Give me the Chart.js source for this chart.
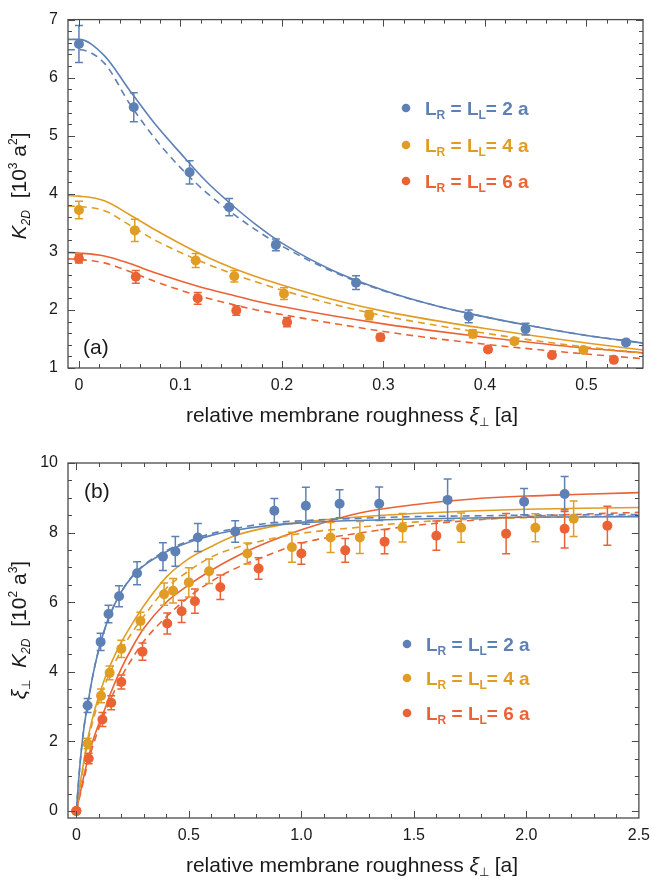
<!DOCTYPE html>
<html>
<head>
<meta charset="utf-8">
<script src="https://cdn.jsdelivr.net/npm/chart.js@4.4.1/dist/chart.umd.min.js"></script>
<style>
  html, body { margin: 0; padding: 0; background: #fff; }
  .panel { position: absolute; left: 0; width: 658px; }
  #wrapA { top: 0; height: 440px; }
  #wrapB { top: 440px; height: 442px; }
</style>
</head>
<body>
<div class="panel" id="wrapA"><canvas id="chartA" width="658" height="440"></canvas></div>
<div class="panel" id="wrapB"><canvas id="chartB" width="658" height="442"></canvas></div>
<script>
'use strict';

// ---- panel (a): K_2D vs roughness, simulation points ----
const aBlueX = [0, 0.054, 0.109, 0.148, 0.194, 0.273, 0.384, 0.44, 0.539];
const aBlueY = [6.58, 5.49, 4.37, 3.77, 3.12, 2.47, 1.89, 1.67, 1.44];
const aBlueErr = [0.32, 0.25, 0.2, 0.15, 0.1, 0.12, 0.11, 0.1, 0.05];
const aOrangeX = [0, 0.055, 0.115, 0.153, 0.202, 0.286, 0.388, 0.429, 0.497];
const aOrangeY = [3.72, 3.37, 2.85, 2.58, 2.28, 1.91, 1.59, 1.46, 1.31];
const aOrangeErr = [0.15, 0.19, 0.12, 0.1, 0.1, 0.08, 0.07, 0.05, 0.04];
const aRedX = [0, 0.056, 0.117, 0.155, 0.205, 0.297, 0.403, 0.466, 0.527];
const aRedY = [2.88, 2.57, 2.2, 1.99, 1.79, 1.53, 1.32, 1.22, 1.14];
const aRedErr = [0.07, 0.11, 0.1, 0.08, 0.08, 0.06, 0.05, 0.04, 0.04];

// panel (a) theory curves (solid / dashed)
const aCurveX = [-0.011, 0, 0.025, 0.05, 0.075, 0.1, 0.125, 0.15, 0.175, 0.2, 0.25, 0.3, 0.35, 0.4, 0.45, 0.5, 0.556];
const aBlueSolid = [6.66, 6.66, 6.38, 5.78, 5.2, 4.7, 4.22, 3.82, 3.46, 3.15, 2.68, 2.34, 2.08, 1.88, 1.71, 1.56, 1.43];
const aBlueDashed = [6.48, 6.48, 6.25, 5.55, 4.95, 4.45, 4.03, 3.68, 3.37, 3.1, 2.66, 2.33, 2.08, 1.88, 1.71, 1.56, 1.43];
const aOrangeSolid = [3.97, 3.96, 3.88, 3.64, 3.38, 3.14, 2.92, 2.73, 2.57, 2.43, 2.18, 1.98, 1.82, 1.68, 1.55, 1.43, 1.31];
const aOrangeDashed = [3.79, 3.78, 3.71, 3.46, 3.2, 2.99, 2.8, 2.63, 2.48, 2.34, 2.1, 1.9, 1.74, 1.6, 1.47, 1.36, 1.26];
const aRedSolid = [2.99, 2.98, 2.93, 2.8, 2.64, 2.5, 2.37, 2.26, 2.15, 2.06, 1.9, 1.76, 1.64, 1.53, 1.43, 1.34, 1.26];
const aRedDashed = [2.88, 2.87, 2.81, 2.66, 2.49, 2.34, 2.21, 2.1, 2.0, 1.92, 1.77, 1.63, 1.51, 1.41, 1.32, 1.24, 1.16];

const aXTicks = [0, 0.1, 0.2, 0.3, 0.4, 0.5];
const aXLabels = ['0', '0.1', '0.2', '0.3', '0.4', '0.5'];
const aYTicks = [1, 2, 3, 4, 5, 6, 7];
const aYLabels = ['1', '2', '3', '4', '5', '6', '7'];

// ---- panel (b): xi * K_2D vs roughness ----
const bBlueX = [0, 0.05, 0.108, 0.143, 0.19, 0.27, 0.385, 0.44, 0.54, 0.706, 0.88, 1.02, 1.17, 1.346, 1.65, 1.99, 2.17];
const bBlueY = [0, 3.03, 4.86, 5.66, 6.17, 6.83, 7.31, 7.46, 7.86, 8.03, 8.63, 8.77, 8.83, 8.83, 8.94, 8.89, 9.11];
const bBlueErr = [0, 0.2, 0.25, 0.25, 0.3, 0.33, 0.4, 0.43, 0.4, 0.31, 0.35, 0.53, 0.4, 0.48, 0.6, 0.38, 0.5];
const bOrangeX = [0, 0.05, 0.11, 0.148, 0.2, 0.285, 0.39, 0.43, 0.5, 0.59, 0.76, 0.958, 1.13, 1.26, 1.45, 1.71, 2.04, 2.21];
const bOrangeY = [0, 1.94, 3.31, 3.97, 4.66, 5.46, 6.23, 6.33, 6.57, 6.89, 7.4, 7.58, 7.86, 7.86, 8.14, 8.14, 8.14, 8.4];
const bOrangeErr = [0, 0.15, 0.2, 0.2, 0.25, 0.25, 0.32, 0.35, 0.42, 0.35, 0.3, 0.43, 0.43, 0.46, 0.41, 0.42, 0.4, 0.51];
const bRedX = [0, 0.055, 0.116, 0.155, 0.2, 0.294, 0.404, 0.468, 0.527, 0.64, 0.81, 1.0, 1.195, 1.37, 1.6, 1.91, 2.17, 2.36];
const bRedY = [0, 1.51, 2.63, 3.11, 3.71, 4.58, 5.39, 5.74, 6.03, 6.43, 6.97, 7.4, 7.49, 7.74, 7.91, 7.97, 8.11, 8.2];
const bRedErr = [0, 0.15, 0.2, 0.2, 0.2, 0.25, 0.3, 0.32, 0.35, 0.35, 0.31, 0.31, 0.34, 0.35, 0.42, 0.58, 0.55, 0.56];

const bCurveX = [0, 0.01, 0.02, 0.035, 0.05, 0.075, 0.1, 0.125, 0.15, 0.2, 0.25, 0.3, 0.4, 0.5, 0.6, 0.7, 0.85, 1.0, 1.25, 1.5, 1.75, 2.0, 2.25, 2.5];
const bBlueSolid = [0, 0.85, 1.6, 2.45, 3.05, 3.95, 4.65, 5.2, 5.65, 6.3, 6.75, 7.05, 7.45, 7.72, 7.92, 8.06, 8.2, 8.28, 8.35, 8.39, 8.42, 8.44, 8.45, 8.46];
const bBlueDashed = [0, 0.85, 1.6, 2.45, 3.05, 3.95, 4.65, 5.2, 5.65, 6.3, 6.76, 7.07, 7.48, 7.76, 7.97, 8.11, 8.27, 8.34, 8.41, 8.46, 8.48, 8.5, 8.51, 8.52];
const bOrangeSolid = [0, 0.45, 0.9, 1.5, 2.05, 2.75, 3.3, 3.78, 4.18, 4.85, 5.4, 5.9, 6.72, 7.25, 7.6, 7.9, 8.15, 8.3, 8.45, 8.55, 8.62, 8.67, 8.7, 8.72];
const bOrangeDashed = [0, 0.4, 0.8, 1.4, 1.95, 2.62, 3.15, 3.6, 3.98, 4.62, 5.15, 5.6, 6.4, 6.9, 7.3, 7.55, 7.8, 7.98, 8.15, 8.3, 8.38, 8.43, 8.46, 8.48];
const bRedSolid = [0, 0.3, 0.6, 1.05, 1.45, 2.05, 2.5, 2.9, 3.35, 4.1, 4.72, 5.25, 6.0, 6.5, 6.92, 7.28, 7.72, 8.08, 8.55, 8.8, 8.96, 9.05, 9.1, 9.15];
const bRedDashed = [0, 0.28, 0.55, 0.95, 1.35, 1.9, 2.38, 2.8, 3.18, 3.85, 4.4, 4.88, 5.58, 6.15, 6.6, 6.95, 7.35, 7.7, 7.98, 8.2, 8.35, 8.46, 8.53, 8.58];

const bXTicks = [0, 0.5, 1.0, 1.5, 2.0, 2.5];
const bXLabels = ['0', '0.5', '1.0', '1.5', '2.0', '2.5'];
const bYTicks = [0, 2, 4, 6, 8, 10];
const bYLabels = ['0', '2', '4', '6', '8', '10'];

const BLUE = '#5E81B5';
const ORANGE = '#E19C24';
const RED = '#EB6235';
const TEXT = '#1a1a1a';
const FONT = '"Liberation Sans", Arial, sans-serif';

function pts(xs, ys) {
  return xs.map((x, i) => ({ x: x, y: ys[i] }));
}

function range(from, to, step) {
  const out = [];
  for (let v = from; v <= to + 1e-9; v += step) out.push(+v.toFixed(4));
  return out;
}

function curve(xs, ys, color, dashed) {
  return {
    data: pts(xs, ys),
    showLine: true,
    borderColor: color,
    borderWidth: 1.6,
    borderDash: dashed ? [7, 5] : [],
    pointRadius: 0,
    cubicInterpolationMode: 'monotone',
    order: 10
  };
}

function markers(xs, ys, errs, color, order) {
  return {
    data: pts(xs, ys),
    yErr: errs,
    showLine: false,
    backgroundColor: color,
    borderColor: color,
    borderWidth: 0,
    pointRadius: 5,
    order: order
  };
}

// draws text pieces with sub/superscripts around a baseline point
function drawRich(ctx, parts, x, y, angle, align) {
  ctx.save();
  ctx.translate(x, y);
  ctx.rotate(angle || 0);
  ctx.textBaseline = 'alphabetic';
  ctx.textAlign = 'left';
  let total = 0;
  parts.forEach(p => {
    ctx.font = p.font;
    p.w = ctx.measureText(p.t).width + (p.gap || 0);
    total += p.w;
  });
  let cx = align === 'left' ? 0 : -total / 2;
  parts.forEach(p => {
    ctx.font = p.font;
    ctx.fillStyle = p.color || TEXT;
    ctx.fillText(p.t, cx, p.dy || 0);
    cx += p.w;
  });
  ctx.restore();
}

// frame with inward ticks on all four sides (Mathematica style)
const frameTicks = {
  id: 'frameTicks',
  afterDraw(chart, args, opts) {
    const { ctx, chartArea: a } = chart;
    const x = chart.scales.x, y = chart.scales.y;
    ctx.save();
    ctx.strokeStyle = '#4a4a4a';
    ctx.lineWidth = 1.3;
    ctx.strokeRect(a.left, a.top, a.right - a.left, a.bottom - a.top);
    ctx.beginPath();
    const xt = (vals, len) => vals.forEach(v => {
      const p = Math.round(x.getPixelForValue(v)) + 0.5;
      if (p < a.left || p > a.right) return;
      ctx.moveTo(p, a.bottom); ctx.lineTo(p, a.bottom - len);
      ctx.moveTo(p, a.top); ctx.lineTo(p, a.top + len);
    });
    const yt = (vals, len) => vals.forEach(v => {
      const p = Math.round(y.getPixelForValue(v)) + 0.5;
      if (p < a.top - 1 || p > a.bottom + 1) return;
      ctx.moveTo(a.left, p); ctx.lineTo(a.left + len, p);
      ctx.moveTo(a.right, p); ctx.lineTo(a.right - len, p);
    });
    xt(opts.xMajor, 7); xt(opts.xMinor, 4);
    yt(opts.yMajor, 7); yt(opts.yMinor, 4);
    ctx.lineWidth = 1;
    ctx.stroke();
    ctx.restore();
  }
};

// vertical error bars with caps, drawn just before the point dataset
const errorBars = {
  id: 'errorBars',
  beforeDatasetDraw(chart, args) {
    const ds = chart.data.datasets[args.index];
    if (!ds.yErr) return;
    const { ctx } = chart;
    const x = chart.scales.x, y = chart.scales.y;
    ctx.save();
    ctx.strokeStyle = ds.borderColor;
    ctx.lineWidth = 1.5;
    ctx.beginPath();
    ds.data.forEach((p, i) => {
      const e = ds.yErr[i];
      if (!e) return;
      const px = x.getPixelForValue(p.x);
      const y1 = y.getPixelForValue(p.y + e);
      const y2 = y.getPixelForValue(p.y - e);
      ctx.moveTo(px, y1); ctx.lineTo(px, y2);
      ctx.moveTo(px - 4, y1); ctx.lineTo(px + 4, y1);
      ctx.moveTo(px - 4, y2); ctx.lineTo(px + 4, y2);
    });
    ctx.stroke();
    ctx.restore();
  }
};

// axis titles, panel label and the legend
const annotations = {
  id: 'annotations',
  afterDraw(chart, args, opts) {
    const ctx = chart.ctx;
    opts.items.forEach(it => drawRich(ctx, it.parts, it.x, it.y, it.angle, it.align));
    opts.dots.forEach(d => {
      ctx.beginPath();
      ctx.fillStyle = d.color;
      ctx.arc(d.x, d.y, 4.3, 0, Math.PI * 2);
      ctx.fill();
    });
  }
};

const F = (size, style) => (style ? style + ' ' : '') + size + 'px ' + FONT;

function xTitle(y) {
  return {
    x: 352, y: y, parts: [
      { t: 'relative membrane roughness ', font: F(21) },
      { t: 'ξ', font: F(21, 'italic') },
      { t: '⊥', font: F(12), dy: 4 },
      { t: ' [a]', font: F(21) }
    ]
  };
}

function legendRow(label, color, x, y) {
  const B = s => F(s, 'bold');
  return {
    x: x, y: y, align: 'left', parts: [
      { t: 'L', font: B(19), color: color },
      { t: 'R', font: B(12), color: color, dy: 4 },
      { t: ' = L', font: B(19), color: color },
      { t: 'L', font: B(12), color: color, dy: 4 },
      { t: '= ' + label + ' a', font: B(19), color: color }
    ]
  };
}

function axisOpts(min, max, ticks, labels, isX, size) {
  return {
    type: 'linear',
    min: min,
    max: max,
    afterBuildTicks: s => { s.ticks = ticks.map(v => ({ value: v })); },
    afterFit: s => { if (isX) s.height = size; else s.width = size; },
    grid: { display: false, drawTicks: false },
    border: { display: false },
    ticks: {
      autoSkip: false,
      maxRotation: 0,
      padding: isX ? 8 : 10,
      color: TEXT,
      font: { family: FONT, size: 16 },
      callback: (v) => labels[ticks.indexOf(v)]
    }
  };
}

function baseOptions(pad) {
  return {
    responsive: false,
    animation: false,
    layout: { padding: pad },
    plugins: { legend: { display: false }, tooltip: { enabled: false } }
  };
}

// ---- chart (a) ----
const optsA = baseOptions({ top: 13, right: 15, left: 0, bottom: 0 });
optsA.scales = {
  x: axisOpts(-0.0108, 0.5557, aXTicks, aXLabels, true, 72),
  y: axisOpts(1, 7, aYTicks, aYLabels, false, 68)
};
optsA.plugins.frameTicks = {
  xMajor: aXTicks, xMinor: range(0, 0.54, 0.02),
  yMajor: aYTicks, yMinor: range(1, 7, 0.2)
};
optsA.plugins.annotations = {
  items: [
    xTitle(422),
    {
      x: 26, y: 186, angle: -Math.PI / 2, parts: [
        { t: 'K', font: F(21, 'italic') },
        { t: '2D', font: F(12, 'italic'), dy: 4, gap: 6 },
        { t: ' [10', font: F(21) },
        { t: '3', font: F(12), dy: -9 },
        { t: ' a', font: F(21) },
        { t: '2', font: F(12), dy: -9 },
        { t: ']', font: F(21) }
      ]
    },
    { x: 83, y: 354, align: 'left', parts: [{ t: '(a)', font: F(21) }] },
    legendRow('2', BLUE, 425, 115),
    legendRow('4', ORANGE, 425, 152),
    legendRow('6', RED, 425, 188)
  ],
  dots: [
    { x: 406, y: 108, color: BLUE },
    { x: 406, y: 145, color: ORANGE },
    { x: 406, y: 181, color: RED }
  ]
};

new Chart(document.getElementById('chartA'), {
  type: 'scatter',
  data: {
    datasets: [
      curve(aCurveX, aBlueSolid, BLUE, false),
      curve(aCurveX, aBlueDashed, BLUE, true),
      curve(aCurveX, aOrangeSolid, ORANGE, false),
      curve(aCurveX, aOrangeDashed, ORANGE, true),
      curve(aCurveX, aRedSolid, RED, false),
      curve(aCurveX, aRedDashed, RED, true),
      markers(aBlueX, aBlueY, aBlueErr, BLUE, 3),
      markers(aOrangeX, aOrangeY, aOrangeErr, ORANGE, 2),
      markers(aRedX, aRedY, aRedErr, RED, 1)
    ]
  },
  options: optsA,
  plugins: [errorBars, frameTicks, annotations]
});

// ---- chart (b) ----
const optsB = baseOptions({ top: 23, right: 14, left: 0, bottom: 0 });
optsB.scales = {
  x: axisOpts(-0.037, 2.5, bXTicks, bXLabels, true, 64),
  y: axisOpts(-0.2, 10, bYTicks, bYLabels, false, 68)
};
optsB.plugins.frameTicks = {
  xMajor: bXTicks, xMinor: range(0, 2.5, 0.1),
  yMajor: bYTicks, yMinor: range(0, 10, 0.5)
};
optsB.plugins.annotations = {
  items: [
    xTitle(432),
    {
      x: 26, y: 190, angle: -Math.PI / 2, parts: [
        { t: 'ξ', font: F(21, 'italic') },
        { t: '⊥', font: F(12), dy: 4, gap: 6 },
        { t: ' K', font: F(21, 'italic') },
        { t: '2D', font: F(12, 'italic'), dy: 4, gap: 6 },
        { t: ' [10', font: F(21) },
        { t: '2', font: F(12), dy: -9 },
        { t: ' a', font: F(21) },
        { t: '3', font: F(12), dy: -9 },
        { t: ']', font: F(21) }
      ]
    },
    { x: 84, y: 58, align: 'left', parts: [{ t: '(b)', font: F(21) }] },
    legendRow('2', BLUE, 426, 211),
    legendRow('4', ORANGE, 426, 245),
    legendRow('6', RED, 426, 280)
  ],
  dots: [
    { x: 407, y: 204, color: BLUE },
    { x: 407, y: 238, color: ORANGE },
    { x: 407, y: 273, color: RED }
  ]
};

new Chart(document.getElementById('chartB'), {
  type: 'scatter',
  data: {
    datasets: [
      curve(bCurveX, bBlueSolid, BLUE, false),
      curve(bCurveX, bBlueDashed, BLUE, true),
      curve(bCurveX, bOrangeSolid, ORANGE, false),
      curve(bCurveX, bOrangeDashed, ORANGE, true),
      curve(bCurveX, bRedSolid, RED, false),
      curve(bCurveX, bRedDashed, RED, true),
      markers(bBlueX, bBlueY, bBlueErr, BLUE, 3),
      markers(bOrangeX, bOrangeY, bOrangeErr, ORANGE, 2),
      markers(bRedX, bRedY, bRedErr, RED, 1)
    ]
  },
  options: optsB,
  plugins: [errorBars, frameTicks, annotations]
});
</script>
</body>
</html>
